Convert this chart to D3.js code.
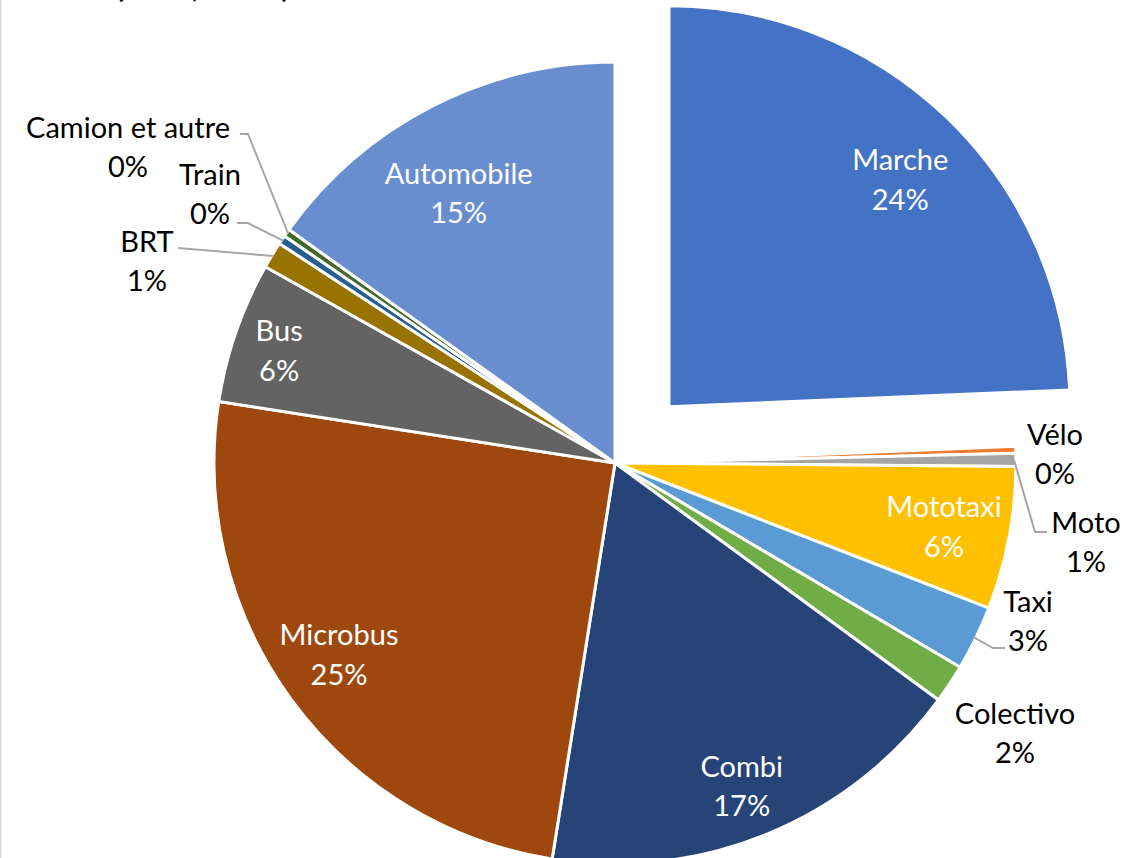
<!DOCTYPE html>
<html>
<head>
<meta charset="utf-8">
<script src="https://cdn.jsdelivr.net/npm/d3@7"></script>
<style>
  html, body { margin: 0; padding: 0; background: #fff; }
  svg { display: block; }
  text { font-family: Lato, "Noto Sans", sans-serif; }
</style>
</head>
<body>
<div id="chart"></div>
<script>
// share of trips by mode (%), clockwise from 12 o'clock
var modes = ["Marche", "Vélo", "Moto", "Mototaxi", "Taxi", "Colectivo", "Combi",
             "Microbus", "Bus", "BRT", "Train", "Camion et autre", "Automobile"];
var shares = [24.33, 0.28, 0.53, 5.75, 2.61, 1.56, 17.44, 24.94, 5.69, 1.08, 0.36, 0.31, 15.11];
var colors = ["#4472C4", "#ED7D31", "#A5A5A5", "#FFC000", "#5B9BD5", "#70AD47", "#264478",
              "#9E480E", "#636363", "#997300", "#255E91", "#43682B", "#698ED0"];
var exploded = ["Marche"];

var W = 1140, H = 858;
var cx = 615, cy = 463, R = 401, explodeDist = 78;
var fontSize = 29, lineGap = 39.5;

// inside labels: [fraction of radius, angle shift in degrees from mid angle]
var insideLabels = {
  "Marche": [0.81, 1.6], "Automobile": [0.78, -2.8], "Bus": [0.884, -0.4],
  "Microbus": [0.836, 1.5], "Combi": [0.863, 0.9], "Mototaxi": [0.835, -0.1]
};
// outside labels: block centre and leader points, relative to pie centre
var outsideLabels = {
  "Camion et autre": { pos: [-487, -317], leader: [[-367, -329], [-375, -329]] },
  "Train":           { pos: [-405, -270], leader: [[-367, -240], [-378, -240]] },
  "BRT":             { pos: [-468, -203], leader: [[-437, -215]] },
  "Vélo":            { pos: [440, -10],   leader: null },
  "Moto":            { pos: [471, 78],    leader: [[420, 69], [432, 69]] },
  "Taxi":            { pos: [413, 157],   leader: [[378, 185], [390, 185]] },
  "Colectivo":       { pos: [400, 269],   leader: null }
};

var total = d3.sum(shares);
var pct = d3.format(".0%");
var data = modes.map(function(m, i) { return { name: m, value: shares[i], color: colors[i] }; });

var svg = d3.select("#chart").append("svg")
  .attr("width", W).attr("height", H);

// chart area border at left edge
svg.append("line")
  .attr("x1", 0.5).attr("x2", 0.5).attr("y1", 0).attr("y2", H)
  .attr("stroke", "#d9d9d9").attr("stroke-width", 2);

// title, mostly cut off at the top
svg.append("text")
  .attr("x", 10).attr("y", -3)
  .style("font-size", "32px").style("font-weight", "bold")
  .attr("fill", "#000")
  .text("Modes (Lima, 2012)");

var pie = d3.pie().sort(null).value(function(d) { return d.value; });
var arcs = pie(data);
var arc = d3.arc().innerRadius(0).outerRadius(R);

var g = svg.append("g").attr("transform", "translate(" + cx + "," + cy + ")");

function offset(d) {
  if (exploded.indexOf(d.data.name) < 0) return [0, 0];
  var a = (d.startAngle + d.endAngle) / 2;
  return [Math.sin(a) * explodeDist, -Math.cos(a) * explodeDist];
}

g.selectAll("path.slice")
  .data(arcs)
  .enter().append("path")
  .attr("class", "slice")
  .attr("transform", function(d) { var o = offset(d); return "translate(" + o[0] + "," + o[1] + ")"; })
  .attr("d", arc)
  .attr("fill", function(d) { return d.data.color; })
  .attr("stroke", "#fff")
  .attr("stroke-width", 3)
  .attr("stroke-linejoin", "round");

// leader lines
arcs.forEach(function(d) {
  var lab = outsideLabels[d.data.name];
  if (!lab || !lab.leader) return;
  var a = (d.startAngle + d.endAngle) / 2;
  var pts = [[Math.sin(a) * (R - 2), -Math.cos(a) * (R - 2)]].concat(lab.leader);
  g.append("path")
    .attr("d", d3.line()(pts))
    .attr("fill", "none")
    .attr("stroke", "#a6a6a6")
    .attr("stroke-width", 2);
});

// labels
arcs.forEach(function(d) {
  var name = d.data.name, x, y, fill;
  var a = (d.startAngle + d.endAngle) / 2;
  if (insideLabels[name] != null) {
    var o = offset(d), r = R * insideLabels[name][0];
    var la = a + insideLabels[name][1] * Math.PI / 180;
    x = o[0] + Math.sin(la) * r;
    y = o[1] - Math.cos(la) * r;
    fill = "#fff";
  } else {
    x = outsideLabels[name].pos[0];
    y = outsideLabels[name].pos[1];
    fill = "#000";
  }
  var t = g.append("text")
    .attr("text-anchor", "middle")
    .attr("fill", fill)
    .style("font-size", fontSize + "px");
  t.append("tspan").attr("x", x).attr("y", y - lineGap / 2)
    .attr("dominant-baseline", "central").text(name);
  t.append("tspan").attr("x", x).attr("y", y + lineGap / 2)
    .attr("dominant-baseline", "central").text(pct(d.data.value / total));
});
</script>
</body>
</html>
